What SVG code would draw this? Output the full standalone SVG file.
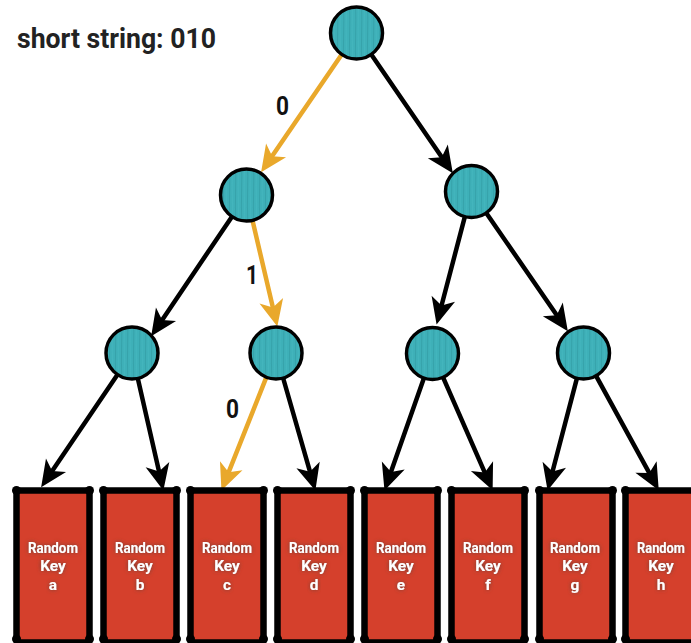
<svg xmlns="http://www.w3.org/2000/svg" width="691" height="643" viewBox="0 0 691 643">
<style>
.title{font-family:"Liberation Sans Narrow",Roboto,"Liberation Sans",sans-serif;font-weight:bold;font-size:28px;fill:#222}
.elabel{font-family:"Liberation Sans Narrow",Roboto,"Liberation Sans",sans-serif;font-weight:bold;font-size:26px;fill:#111}
.key{font-family:"Liberation Sans Narrow",Roboto,"Liberation Sans",sans-serif;font-weight:bold;font-size:15.5px;fill:#fff;text-anchor:middle;filter:url(#glow)}
.node{fill:url(#teal);stroke:#000;stroke-width:3.5}
.edge{fill:none;stroke:#000;stroke-width:4.5;stroke-linecap:round;marker-end:url(#ab)}
.edge.hot{stroke:#E9A82B;marker-end:url(#ao)}
.frame{fill:#D5402C;stroke:#000;stroke-width:6.5;stroke-linejoin:round}
</style>
<defs>
<pattern id="teal" width="6" height="52" patternUnits="userSpaceOnUse">
<rect width="6" height="52" fill="#3EB0B8"/>
<path d="M1.5,0 L1.8,20 L1.4,52" stroke="#36A3AB" stroke-width="1" fill="none"/>
<path d="M4.5,0 L4.2,30 L4.6,52" stroke="#44B6BE" stroke-width="0.8" fill="none"/>
</pattern>
<filter id="glow" x="-30%" y="-40%" width="160%" height="180%">
<feGaussianBlur in="SourceAlpha" stdDeviation="2"/>
<feComponentTransfer><feFuncA type="linear" slope="1.6"/></feComponentTransfer>
<feColorMatrix type="matrix" values="0 0 0 0 0.3  0 0 0 0 0.05  0 0 0 0 0.03  0 0 0 1 0"/>
<feMerge><feMergeNode/><feMergeNode in="SourceGraphic"/></feMerge>
</filter>
<marker id="ab" markerUnits="userSpaceOnUse" markerWidth="30" markerHeight="30" viewBox="-14 -12 26 24" refX="0" refY="0" orient="auto">
<path d="M10,0 L-13,-10.5 L-7,0 L-13,10.5 Z" fill="#000"/>
</marker>
<marker id="ao" markerUnits="userSpaceOnUse" markerWidth="30" markerHeight="30" viewBox="-14 -12 26 24" refX="0" refY="0" orient="auto">
<path d="M10,0 L-13,-10.5 L-7,0 L-13,10.5 Z" fill="#E9A82B"/>
</marker>
<g id="box">
<rect x="3.5" y="3.5" width="73" height="152" rx="2" class="frame"/>
<circle cx="3.5" cy="3.5" r="4.5" fill="#000"/>
<circle cx="76.5" cy="3.5" r="4.5" fill="#000"/>
<circle cx="3.5" cy="152" r="4.5" fill="#000"/>
<circle cx="76.5" cy="152" r="4.5" fill="#000"/>
</g>
</defs>
<rect width="691" height="643" fill="#fff"/>
<text class="title" x="17" y="48" textLength="199" lengthAdjust="spacingAndGlyphs">short string: 010</text>

<g id="connectors">
<path class="edge hot" d="M341.2,55.3 L267.6,162.8"/>
<path class="edge" d="M371.8,55.3 L446.3,163.8"/>
<path class="edge" d="M231.4,217.4 L157.6,326.7"/>
<path class="edge hot" d="M252.7,221.3 L274.7,315.3"/>
<path class="edge" d="M464.6,217.6 L439.5,313.3"/>
<path class="edge" d="M486.8,213.7 L561.3,321.8"/>
<path class="edge" d="M116.9,375.4 L47.6,477.7"/>
<path class="edge" d="M138,379.3 L160.8,479.3"/>
<path class="edge hot" d="M266,378.1 L225.7,479.7"/>
<path class="edge" d="M283.4,379 L312.2,479.4"/>
<path class="edge" d="M423.6,379 L388.3,479.6"/>
<path class="edge" d="M443.4,378.2 L488,479.8"/>
<path class="edge" d="M576.7,379.1 L550.5,479.3"/>
<path class="edge" d="M596.5,376.7 L653.2,480.2"/>
<text class="elabel" x="276" y="115" textLength="13" lengthAdjust="spacingAndGlyphs">0</text>
<text class="elabel" x="246" y="284" textLength="12" lengthAdjust="spacingAndGlyphs">1</text>
<text class="elabel" x="226" y="418" textLength="13" lengthAdjust="spacingAndGlyphs">0</text>
</g>

<g id="n-root"><circle class="node" cx="356.5" cy="33" r="26"/></g>
<g id="n-0"><circle class="node" cx="246.5" cy="195" r="26"/></g>
<g id="n-1"><circle class="node" cx="471.5" cy="191.5" r="26"/></g>
<g id="n-00"><circle class="node" cx="132" cy="353" r="26"/></g>
<g id="n-01"><circle class="node" cx="276" cy="353" r="26"/></g>
<g id="n-10"><circle class="node" cx="432.5" cy="353.5" r="26"/></g>
<g id="n-11"><circle class="node" cx="583.5" cy="353" r="26"/></g>

<g id="key-a"><use href="#box" x="13" y="487"/><text class="key" x="53" y="553" textLength="50" lengthAdjust="spacingAndGlyphs">Random</text><text class="key" x="53" y="571">Key</text><text class="key" x="53" y="590">a</text></g>
<g id="key-b"><use href="#box" x="100" y="487"/><text class="key" x="140" y="553" textLength="50" lengthAdjust="spacingAndGlyphs">Random</text><text class="key" x="140" y="571">Key</text><text class="key" x="140" y="590">b</text></g>
<g id="key-c"><use href="#box" x="187" y="487"/><text class="key" x="227" y="553" textLength="50" lengthAdjust="spacingAndGlyphs">Random</text><text class="key" x="227" y="571">Key</text><text class="key" x="227" y="590">c</text></g>
<g id="key-d"><use href="#box" x="274" y="487"/><text class="key" x="314" y="553" textLength="50" lengthAdjust="spacingAndGlyphs">Random</text><text class="key" x="314" y="571">Key</text><text class="key" x="314" y="590">d</text></g>
<g id="key-e"><use href="#box" x="361" y="487"/><text class="key" x="401" y="553" textLength="50" lengthAdjust="spacingAndGlyphs">Random</text><text class="key" x="401" y="571">Key</text><text class="key" x="401" y="590">e</text></g>
<g id="key-f"><use href="#box" x="448" y="487"/><text class="key" x="488" y="553" textLength="50" lengthAdjust="spacingAndGlyphs">Random</text><text class="key" x="488" y="571">Key</text><text class="key" x="488" y="590">f</text></g>
<g id="key-g"><use href="#box" x="536" y="487"/><text class="key" x="575" y="553" textLength="50" lengthAdjust="spacingAndGlyphs">Random</text><text class="key" x="575" y="571">Key</text><text class="key" x="575" y="590">g</text></g>
<g id="key-h"><use href="#box" x="622" y="487"/><text class="key" x="661" y="553" textLength="48" lengthAdjust="spacingAndGlyphs">Random</text><text class="key" x="661" y="571">Key</text><text class="key" x="661" y="590">h</text></g>
</svg>
